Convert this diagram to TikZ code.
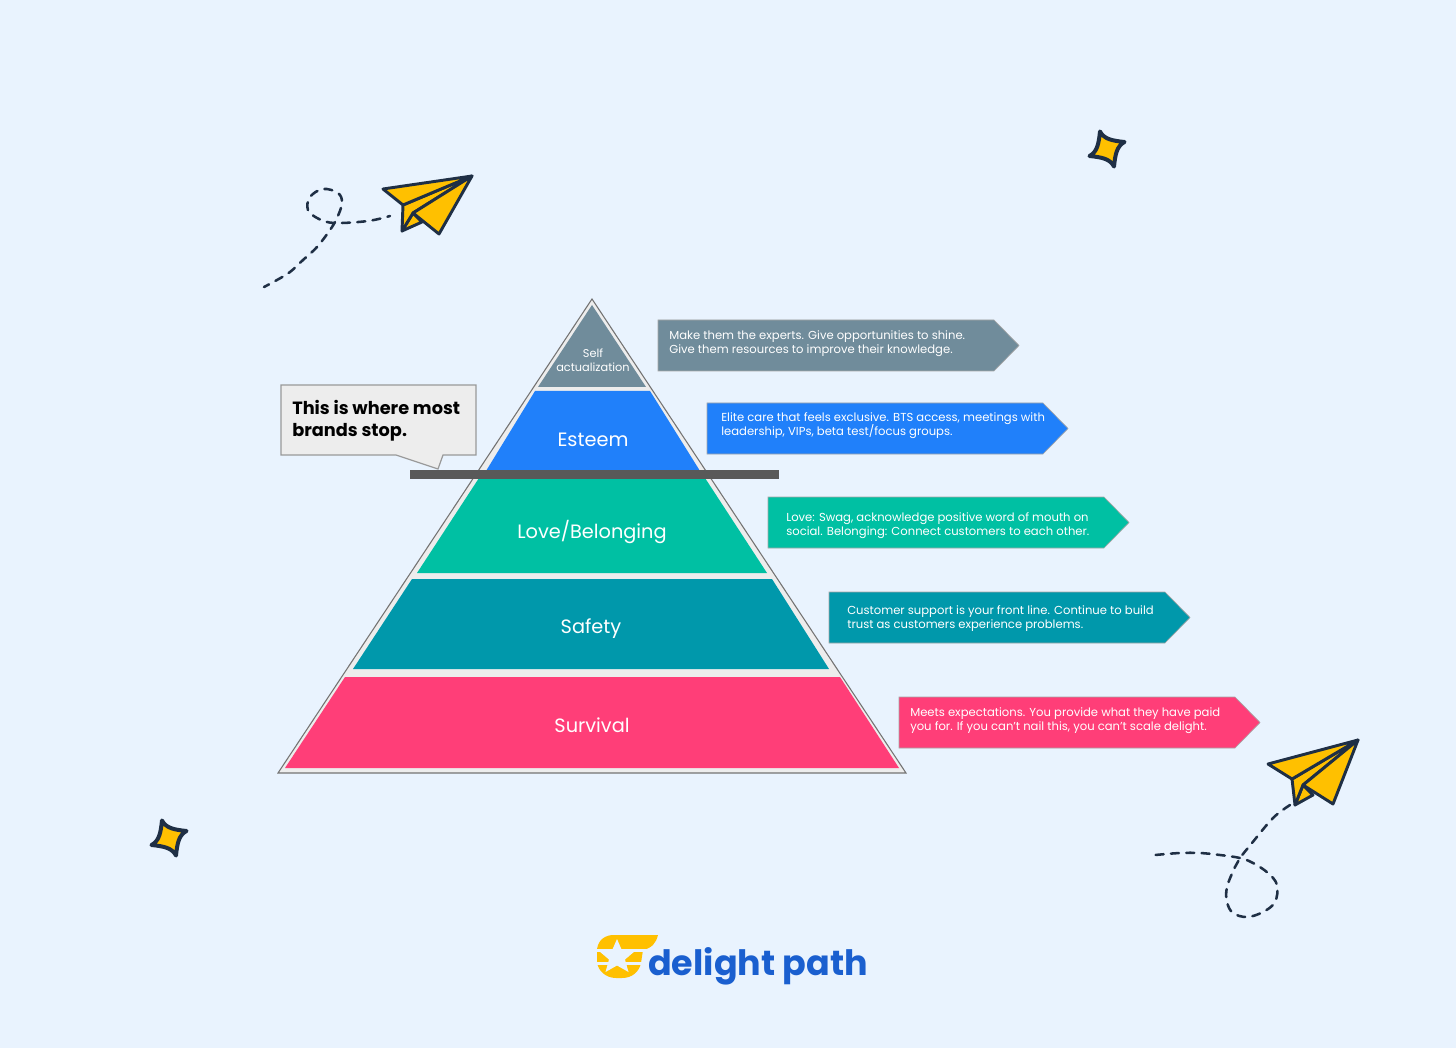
\documentclass[tikz,border=0pt]{standalone}
\usepackage{fontspec}
\setmainfont{Poppins}
\usetikzlibrary{positioning}
\lineskiplimit=-10pt
\definecolor{paper}{HTML}{E9F3FE}
\definecolor{ink}{HTML}{1F2F45}
\definecolor{gold}{HTML}{FFC000}
\definecolor{selfcol}{HTML}{708C9B}
\definecolor{esteemcol}{HTML}{2080FA}
\definecolor{lovecol}{HTML}{00C0A3}
\definecolor{safetycol}{HTML}{0098AB}
\definecolor{survivalcol}{HTML}{FF3E78}
\definecolor{logoblue}{HTML}{1A5FCF}
\tikzset{
    layertext/.style={text=white, font=\fontsize{14.5}{16}\selectfont, inner sep=0pt},
    bannertext/.style={text=white, font=\fontsize{8.7}{10.5}\selectfont, align=left, anchor=west, inner sep=0pt},
    bannerline/.style={draw=black!35, line width=0.5pt},
    trail/.style={draw=ink, line width=1.9pt, dash pattern=on 6pt off 5.5pt, line cap=round},
    planeline/.style={draw=ink, line width=2.2pt, line join=round, fill=gold},
}
% banner: left x, top y, fill
\newcommand{\Banner}[3]{
    \draw[bannerline, fill=#3] (#1,#2) -- ++(336,0) -- ++(25,25.5) -- ++(-25,25.5) -- ++(-336,0) -- cycle;
}
% sparkle: centre x, centre y
\newcommand{\Sparkle}[2]{
    \draw[draw=ink, line width=3pt, line join=round, fill=gold, shift={(#1,#2)}]
        (-7,-17.5) .. controls (-3,-10) and (4.7,-8.3) .. (17.5,-7)
        .. controls (10,-3) and (8.3,4.7) .. (7,17.5)
        .. controls (3,10) and (-4.7,8.3) .. (-17.5,7)
        .. controls (-10,3) and (-8.3,-4.7) .. cycle;
}
\begin{document}
\begin{tikzpicture}[x=0.75pt, y=-0.75pt]

    \useasboundingbox (0,0) rectangle (1456,1048);
    \fill[paper] (0,0) rectangle (1456,1048);

    % pyramid
    \draw[draw=black!55, line width=0.8pt, fill=black!7] (592,299) -- (906,773) -- (278,773) -- cycle;
    \fill[selfcol] (592,305) -- (646,387) -- (538,387) -- cycle;
    \fill[esteemcol] (535,391) -- (650,391) -- (700,471) -- (486,471) -- cycle;
    \fill[lovecol] (479,478) -- (705,478) -- (767,573) -- (417,573) -- cycle;
    \fill[safetycol] (412,579) -- (772,579) -- (829,669) -- (353,669) -- cycle;
    \fill[survivalcol] (345,677) -- (840,677) -- (899,768) -- (285,768) -- cycle;

    \node[layertext, font=\fontsize{8.5}{10.5}\selectfont, align=center] (selfL) at (593,360) {Self\\actualization};
    \node[layertext] (esteemL) at (593,440) {Esteem};
    \node[layertext] (loveL) at (592,532) {Love/Belonging};
    \node[layertext] (safetyL) at (591,629) {Safety};
    \node[layertext] (survivalL) at (592,725) {Survival};

    % callout and bar
    \draw[draw=black!40, line width=0.9pt, fill=black!7] (281,385) -- (476,385) -- (476,455) -- (443,455)
        -- (438,469) -- (396,455) -- (281,455) -- cycle;
    \node[anchor=west, align=left, inner sep=0pt, font=\fontsize{13.3}{16.5}\selectfont\bfseries] (stopL) at (292,420.5) {This is where most\\brands stop.};
    \fill[black!65] (410,470) rectangle (779,479);

    % banners
    \Banner{658}{320}{selfcol}
    \Banner{707}{403}{esteemcol}
    \Banner{768}{497}{lovecol}
    \Banner{829}{592}{safetycol}
    \Banner{899}{697}{survivalcol}

    \node[bannertext] (selfT) at (669,343.5) {Make them the experts. Give opportunities to shine.\\Give them resources to improve their knowledge.};
    \node[bannertext] (esteemT) at (721,426) {Elite care that feels exclusive. BTS access, meetings with\\leadership, VIPs, beta test/focus groups.};
    \node[bannertext] (loveT) at (786,525.5) {Love: Swag, acknowledge positive word of mouth on\\social. Belonging: Connect customers to each other.};
    \node[bannertext] (safetyT) at (847,619) {Customer support is your front line. Continue to build\\trust as customers experience problems.};
    \node[bannertext] (survivalT) at (910,721) {Meets expectations. You provide what they have paid\\you for. If you can't nail this, you can't scale delight.};

    % upper plane
    \draw[trail, dash phase=4pt] plot[smooth, tension=0.6] coordinates {(390,216) (368,221) (335,223) (319,219) (308,210) (310,197) (323,189) (338,193) (342,203) (337,218) (330,230) (317,247) (303,260) (290,272) (277,280) (264,287)};
    \draw[planeline] (402,231) -- (422,222) -- (413,213) -- cycle;
    \draw[planeline] (403,205) -- (402,231) -- (413,213) -- (472,176) -- cycle;
    \draw[planeline] (472,176) -- (383,189) -- (403,205) -- cycle;
    \draw[planeline] (472,176) -- (439,234) -- (413,213) -- cycle;

    % lower plane
    \draw[trail] plot[smooth, tension=0.6] coordinates {(1290,805) (1273,818) (1252,843) (1240,858) (1235,867) (1227,887) (1227,902) (1233,913) (1247,917) (1263,912) (1275,902) (1277,885) (1268,873) (1253,863) (1240,858) (1220,855) (1200,853) (1180,853) (1155,855)};
    \draw[planeline] (1295,805) -- (1313,795) -- (1303,785) -- cycle;
    \draw[planeline] (1292,779) -- (1295,805) -- (1303,785) -- (1358,740) -- cycle;
    \draw[planeline] (1358,740) -- (1268,764) -- (1292,779) -- cycle;
    \draw[planeline] (1358,740) -- (1333,804) -- (1303,785) -- cycle;

    % sparkles
    \Sparkle{1107}{149}
    \Sparkle{169}{838}

    % logo
    \fill[gold] (658,935) -- (612,935) .. controls (602,936) and (597,943) .. (597,951)
        -- (597,962) .. controls (598,971) and (606,978) .. (616,978)
        -- (622,978) .. controls (632,978) and (639,972) .. (641,963)
        -- (643,950) .. controls (652,948) and (656,943) .. (658,935) -- cycle;
    \fill[paper] (595,949) rectangle (647,951.5);
    \fill[paper] (595,962) rectangle (645,964.5);
    \fill[paper] (617,939) -- (622,950.5) -- (635,951) -- (625,959.5) -- (628.5,972)
        -- (617,965.5) -- (605.5,972) -- (609,959.5) -- (599,951) -- (612,950.5) -- cycle;
    \node[anchor=base west, inner sep=0pt, text=logoblue, font=\fontsize{26.2}{28}\selectfont\bfseries] (logoT) at (648,975) {delight path};

\end{tikzpicture}
\end{document}
